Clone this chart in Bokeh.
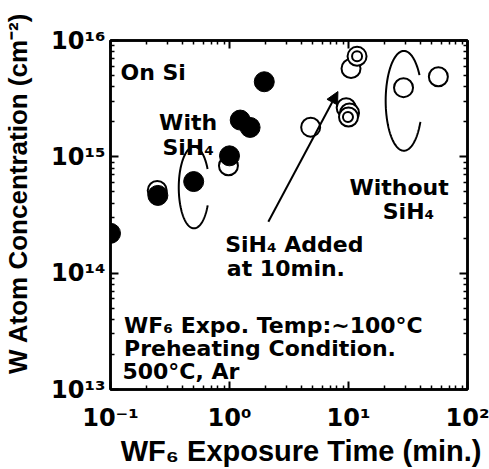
import numpy as np
from bokeh.plotting import figure
from bokeh.models import FixedTicker, LogAxis, Label, Arrow, NormalHead, Range1d
from bokeh.embed import file_html
from bokeh.resources import INLINE

# ---- data ----
with_x = [0.1, 0.25, 0.5, 1.0, 1.23, 1.49, 1.96]
with_y = [2.2e14, 4.66e14, 6.13e14, 1.02e15, 2.07e15, 1.79e15, 4.42e15]

without_x = [0.247, 0.98, 4.81, 9.56, 10.2, 10.0, 10.5, 11.8, 29.0, 56.9]
without_y = [5.14e14, 8.38e14, 1.80e15, 2.64e15, 2.38e15, 2.20e15, 5.75e15, 7.31e15, 3.93e15, 4.88e15]

inner_x = [9.9, 11.8]
inner_y = [2.2e15, 7.31e15]

x_major = [0.1, 1, 10, 100]
x_major_labels = ["10⁻¹", "10⁰", "10¹", "10²"]
y_major = [1e13, 1e14, 1e15, 1e16]
y_major_labels = ["10¹³", "10¹⁴", "10¹⁵", "10¹⁶"]

x_minor = [m * d for d in x_major[:-1] for m in range(2, 10)]
y_minor = [m * d for d in y_major[:-1] for m in range(2, 10)]

x_title = "WF₆ Exposure Time (min.)"
y_title = "W Atom Concentration (cm⁻²)"

# ellipse annotations: centre (data), half axes (decades), open gap (deg)
ell_cx = [0.503, 29.2]
ell_cy = [5.45e14, 3.03e15]
ell_a = [0.128, 0.153]
ell_b = [0.351, 0.429]
ell_gap = [(-26, 27), (-25, 31)]

BOLD_FONT = "DejaVu Sans"
TITLE_FONT = "Liberation Sans"
NBSP = "\u00a0"

p = figure(width=489, height=469, x_axis_type="log", y_axis_type="log",
           x_range=Range1d(0.1, 100), y_range=Range1d(1e13, 1e16),
           output_backend="svg", toolbar_location=None,
           min_border_left=108, min_border_right=22,
           min_border_top=40, min_border_bottom=76)
p.grid.visible = False
p.outline_line_color = "black"
p.outline_line_width = 2.5
p.background_fill_color = "white"
p.border_fill_color = "white"


def style_axis(ax, ticks, minor, labels, standoff):
    ax.ticker = FixedTicker(ticks=ticks, minor_ticks=minor)
    ax.major_label_overrides = dict(zip(ticks, labels))
    ax.axis_line_width = 2.5
    ax.axis_line_color = "black"
    ax.major_tick_in = 8
    ax.major_tick_out = 0
    ax.minor_tick_in = 4
    ax.minor_tick_out = 0
    ax.major_tick_line_width = 2
    ax.minor_tick_line_width = 1.5
    ax.major_label_text_font = BOLD_FONT
    ax.major_label_text_font_style = "bold"
    ax.major_label_text_font_size = "24px"
    ax.major_label_text_color = "black"
    ax.major_label_standoff = standoff
    ax.axis_label_text_font = TITLE_FONT
    ax.axis_label_text_font_style = "bold"
    ax.axis_label_text_color = "black"


xa = p.xaxis[0]
style_axis(xa, x_major, x_minor, x_major_labels, 14)
xa.axis_label = NBSP * 3 + x_title
xa.axis_label_text_font_size = "29px"
xa.axis_label_standoff = 0

ya = p.yaxis[0]
style_axis(ya, y_major, y_minor, y_major_labels, 5)
ya.axis_label = NBSP * 6 + y_title
ya.axis_label_text_font_size = "26px"
ya.axis_label_standoff = 15

top_ax = LogAxis()
style_axis(top_ax, x_major, x_minor, [""] * 4, 0)
p.add_layout(top_ax, "above")
right_ax = LogAxis()
style_axis(right_ax, y_major, y_minor, [""] * 4, 0)
p.add_layout(right_ax, "right")

# ellipses
for cx, cy, a, b, (g0, g1) in zip(ell_cx, ell_cy, ell_a, ell_b, ell_gap):
    t = np.radians(np.linspace(g1, 360 + g0, 240))
    xs = 10 ** (np.log10(cx) + a * np.cos(t))
    ys = 10 ** (np.log10(cy) + b * np.sin(t))
    p.line(xs, ys, line_color="black", line_width=2)

# points
p.scatter(without_x, without_y, size=19, marker="circle", fill_color="white",
          line_color="black", line_width=2)
p.scatter(inner_x, inner_y, size=10, marker="circle", fill_color="white",
          line_color="black", line_width=2)
p.scatter(with_x, with_y, size=20, marker="circle", fill_color="black",
          line_color="black")

# arrow
p.add_layout(Arrow(end=NormalHead(size=12, fill_color="black", line_color="black"),
                   x_start=2.12, y_start=2.77e14, x_end=8.15, y_end=3.64e15,
                   line_width=2, line_color="black"))


def txt(x, y, s, align="left", size="22px"):
    p.add_layout(Label(x=x, y=y, text=s, text_font=BOLD_FONT, text_font_style="bold",
                       text_font_size=size, text_align=align, text_color="black",
                       text_baseline="alphabetic"))


txt(0.1212, 5.35e15, "On Si")
txt(0.449, 1.96e15, "With", align="center")
txt(0.449, 1.21e15, "SiH₄", align="center")
txt(10.2, 5.50e14, "Without")
txt(19.4, 3.40e14, "SiH₄")
txt(0.919, 1.75e14, "SiH₄ Added")
txt(0.950, 1.09e14, "at 10min.")
txt(0.130, 3.55e13, "WF₆ Expo. Temp:~100°C")
txt(0.130, 2.24e13, "Preheating Condition.")
txt(0.126, 1.42e13, "500°C, Ar")

open("out.html", "w").write(file_html(p, INLINE))
